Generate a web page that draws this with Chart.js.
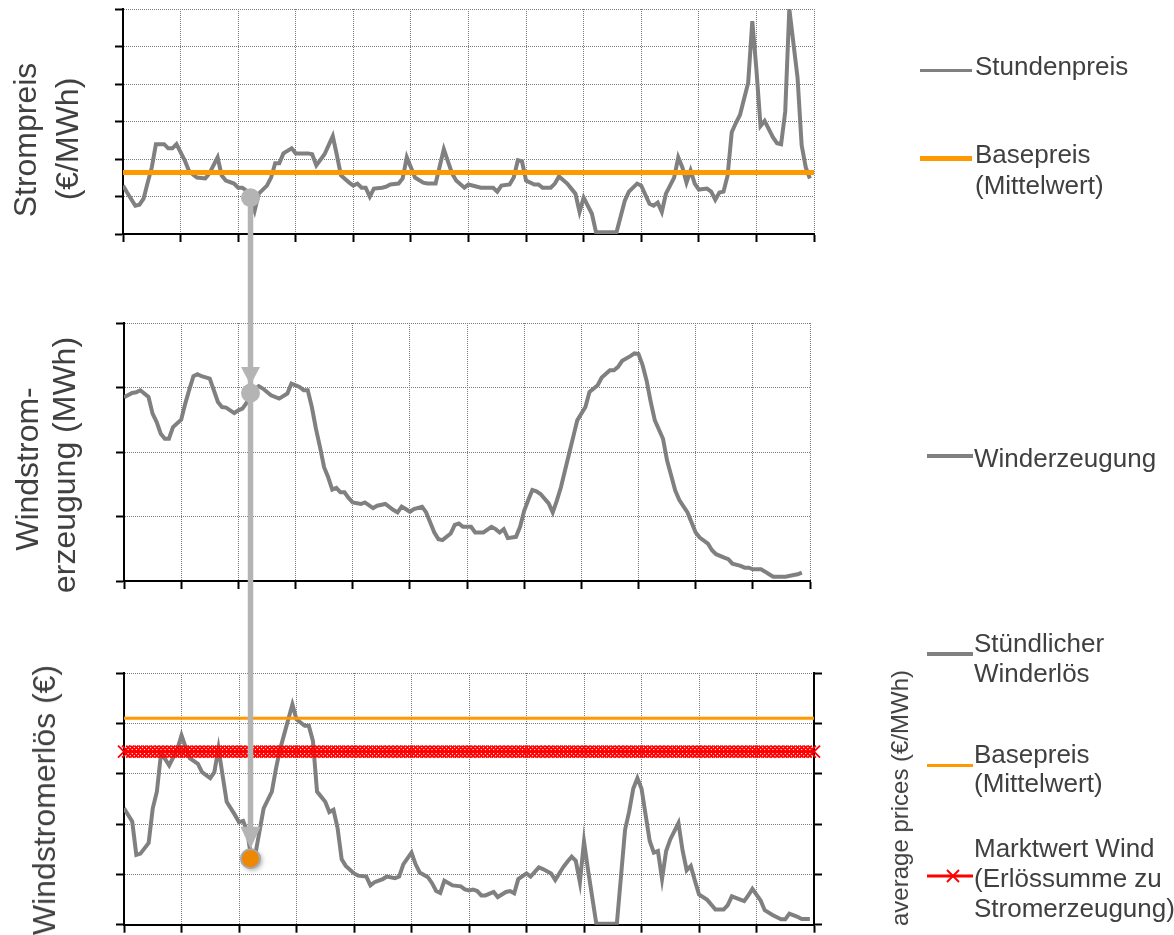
<!DOCTYPE html>
<html><head><meta charset="utf-8">
<script src="https://cdn.jsdelivr.net/npm/chart.js@4.4.1/dist/chart.umd.min.js"></script>
<style>
html,body{margin:0;padding:0;background:#fff;}
body{width:1174px;height:935px;position:relative;overflow:hidden;font-family:'Liberation Sans',Arial,Helvetica,sans-serif;color:#404040;}
canvas{position:absolute;}
.t{position:absolute;white-space:nowrap;font-size:26px;line-height:26px;}
.r{position:absolute;white-space:nowrap;font-size:32px;line-height:32px;transform:translate(-50%,-50%) rotate(-90deg);}
.r2{position:absolute;white-space:nowrap;font-size:24px;line-height:24px;transform:translate(-50%,-50%) rotate(-90deg);}
.sw{position:absolute;}
</style></head><body>
<canvas id="c1" width="830" height="246" style="left:0;top:0"></canvas>
<canvas id="c2" width="830" height="293" style="left:0;top:300px"></canvas>
<canvas id="c3" width="830" height="285" style="left:0;top:650px"></canvas>
<canvas id="ov" width="1174" height="935" style="left:0;top:0;pointer-events:none"></canvas>

<!-- axis titles -->
<div class="r" style="left:25px;top:139.5px">Strompreis</div>
<div class="r" style="left:67px;top:139px">(€/MWh)</div>
<div class="r" style="left:27px;top:469px">Windstrom-</div>
<div class="r" style="left:64px;top:465px">erzeugung (MWh)</div>
<div class="r" style="left:43.5px;top:800px">Windstromerlös (€)</div>
<div class="r2" style="left:900px;top:798px">average prices (€/MWh)</div>

<!-- legends -->
<div class="sw" style="left:920px;top:68.5px;width:52px;height:3.5px;background:#808080"></div>
<div class="t" style="left:975px;top:53px">Stundenpreis</div>
<div class="sw" style="left:920px;top:156px;width:52px;height:5px;background:#ff9900"></div>
<div class="t" style="left:975px;top:141.3px">Basepreis</div>
<div class="t" style="left:975px;top:172px">(Mittelwert)</div>

<div class="sw" style="left:927px;top:454px;width:46px;height:3.5px;background:#808080"></div>
<div class="t" style="left:974px;top:444.7px">Winderzeugung</div>

<div class="sw" style="left:927px;top:652.3px;width:46px;height:3.5px;background:#808080"></div>
<div class="t" style="left:974px;top:629.7px">Stündlicher</div>
<div class="t" style="left:974px;top:659.7px">Winderlös</div>
<div class="sw" style="left:927px;top:764.3px;width:46px;height:3px;background:#ff9900"></div>
<div class="t" style="left:974px;top:740.7px">Basepreis</div>
<div class="t" style="left:974px;top:770px">(Mittelwert)</div>
<svg class="sw" style="left:927px;top:868px" width="46" height="16"><line x1="0" y1="8" x2="46" y2="8" stroke="#ff0000" stroke-width="3"/><line x1="20" y1="2" x2="32" y2="14" stroke="#ff0000" stroke-width="2"/><line x1="20" y1="14" x2="32" y2="2" stroke="#ff0000" stroke-width="2"/></svg>
<div class="t" style="left:974px;top:834.7px">Marktwert Wind</div>
<div class="t" style="left:974px;top:864.7px">(Erlössumme zu</div>
<div class="t" style="left:974px;top:894.7px">Stromerzeugung)</div>

<script>
// ---------------- data ----------------
const X_MAX = 168;          // hours in the week
const X_STEP = 14;          // tick spacing (hours)
const HIGHLIGHT_HOUR = 31;  // hour marked by the arrow
const BASE_PRICE = 32.8;    // Basepreis (Mittelwert), €/MWh
const MARKTWERT_WIND = 27.5; // Marktwert Wind, €/MWh

// Stundenpreis (€/MWh)
const PRICE_HOURS = [0,1,3,4,5,6,7,8,10,11,12,13,15,16,17,18,20,21,23,24,25,27,28,29,30,31,32,33,35,36,37,38,39,41,42,45,46,47,49,51,52,53,55,56,57,58,59,60,61,63,64,65,67,68,69,71,73,74,76,78,80,81,83,84,87,90,91,92,94,95,96,97,98,100,101,102,104,105,106,108,109,110,111,112,114,115,120,122,123,125,126,128,129,130,131,132,134,135,136,137,138,139,140,142,143,144,145,146,147,148,149,150,152,153,154,155,156,158,159,160,161,162,164,165,166,167];
const PRICE_VALUES = [25.8,22.1,15.1,15.6,18.8,27.4,35.5,47.9,47.9,45.7,45.7,47.9,39.3,33.9,31.7,30.1,29.6,32.3,40.9,31.2,28.5,26.9,24.7,24.7,23.1,19.4,12.4,21.5,25.8,30.1,37.7,37.7,43.0,45.7,43.0,43.0,42.5,36.6,42.5,52.2,42.0,31.2,27.4,25.8,26.9,24.7,24.7,19.9,24.2,24.7,25.3,26.4,26.9,29.6,40.9,30.1,27.4,26.9,26.9,45.2,32.3,28.5,24.7,26.4,24.7,24.7,22.6,25.8,26.4,30.1,39.3,38.7,28.5,26.4,26.4,24.7,24.7,26.9,30.7,26.9,24.2,21.5,11.8,19.4,10.8,1.0,1.0,17.8,22.6,26.9,25.8,16.1,15.1,16.7,11.8,21.5,30.1,40.9,35.5,27.4,33.9,26.9,23.7,24.2,22.6,18.3,22.1,22.6,31.2,54.3,59.2,63.5,80.7,113.5,87.7,57.6,60.3,51.6,48.4,47.9,65.1,120,83.4,47.3,35.5,29.6];

// Winderzeugung (MWh)
const WIND_HOURS = [0,2,3,4,6,7,8,9,10,11,12,14,15,16,17,18,19,21,22,23,24,25,27,28,29,30,31,33,34,36,38,40,41,43,44,45,46,47,48,49,50,51,52,53,54,55,56,58,59,61,62,64,66,67,68,69,70,71,73,74,75,76,77,78,80,81,82,83,84,85,86,88,90,91,92,93,94,96,97,98,99,100,101,102,104,105,106,107,108,109,110,111,113,114,116,117,119,120,121,122,124,125,126,127,128,129,130,132,133,134,135,136,138,139,140,141,143,144,145,147,148,149,151,152,153,154,156,157,158,159,161,162,164,165,166];
const WIND_VALUES = [14240,14576,14630,14786,14265,12972,12319,11416,11027,11027,11930,12506,13751,14840,15875,16031,15875,15696,14786,13875,13486,13439,13019,13229,13362,13797,14576,15097,14918,14397,14140,14529,15307,15043,14786,14786,13486,11805,10373,8817,8039,7082,7214,6872,6872,6436,6093,5969,6093,5657,5837,5969,5502,5315,5759,5580,5370,5580,5759,5315,4537,3759,3245,3167,3681,4358,4459,4202,4202,4202,3759,3759,4202,4023,3759,4023,3323,3424,4202,5447,6280,7058,6949,6747,6015,5315,6226,7261,8560,9860,11152,12451,13486,14653,15175,15774,16342,16342,16599,17066,17432,17642,17587,16731,15509,13875,12451,11027,9338,8171,7004,6280,5315,4537,3759,3370,2903,2389,2078,1813,1689,1346,1167,1035,1035,910,910,724,521,335,335,335,467,521,646];

// Stündlicher Winderlös (Tsd. €)
const REVENUE_HOURS = [0,2,3,4,6,7,8,9,10,11,13,14,15,16,18,19,21,22,23,24,25,27,28,29,30,31,32,34,36,37,38,39,40,41,42,44,45,46,47,49,50,51,52,53,54,56,57,59,60,61,63,64,66,67,68,70,71,72,74,75,76,77,78,80,82,83,84,85,86,87,88,90,91,93,94,95,96,98,99,101,102,104,105,107,108,109,110,111,112,113,115,120,122,123,124,125,126,128,129,130,131,132,133,135,136,137,138,139,140,142,144,146,147,148,151,152,153,155,156,158,160,161,162,164,165,167];
const REVENUE_VALUES = [370,328,222,226,260,370,423,543,527,506,558,602,564,529,511,485,466,485,561,475,391,349,326,330,297,210,225,370,423,496,558,605,653,700,653,632,632,584,423,391,358,365,307,208,187,163,156,153,125,135,145,153,148,153,192,229,192,166,151,132,107,101,140,125,122,112,109,112,107,93,93,104,88,104,107,100,145,163,153,182,177,163,142,184,201,216,203,135,264,172,3,3,302,360,433,466,433,266,229,234,145,234,271,323,236,173,187,140,96,79,48,48,62,90,75,93,114,77,46,30,17,17,35,25,18,18];

// y-axis ranges (labels hidden in the original)
const PRICE_MAX = 120, PRICE_STEP = 20;
const WIND_MAX = 20000, WIND_STEP = 5000;
const REV_MAX = 800, REV_STEP = 160;
const AVG_MAX = 40, AVG_STEP = 8;

// ---------------- helpers ----------------
const pts = (xs, ys) => xs.map((h, i) => ({x: h, y: ys[i]}));
const MARKER_HOURS = [];
for (let h = 0; h <= X_MAX; h++) MARKER_HOURS.push(h);

const GRAY = '#808080', ORANGE = '#ff9900', RED = '#ff0000';

function axis(extra, tickLen) {
  return Object.assign({
    grid: {color: '#7a7a7a', lineWidth: 1, drawTicks: true, tickLength: tickLen || 8,
           tickColor: '#000', tickWidth: 2, tickBorderDash: []},
    border: {display: true, color: '#000', width: 2, dash: [1, 1]},
    ticks: {display: false}
  }, extra);
}

function xAxis(h, tickLen) {
  return axis({type: 'linear', min: 0, max: X_MAX, ticks: {display: false, stepSize: X_STEP},
    afterFit: s => { s.height = h; }}, tickLen);
}

function baseOpts(padding, scales) {
  return {
    responsive: false, animation: false, events: [],
    layout: {padding: padding},
    plugins: {legend: {display: false}, tooltip: {enabled: false}},
    elements: {point: {radius: 0}, line: {tension: 0}},
    scales: scales
  };
}

// ---------------- top: Strompreis ----------------
const chartTop = new Chart(document.getElementById('c1'), {
  type: 'line',
  data: {datasets: [
    {label: 'Basepreis (Mittelwert)', data: [{x: 0, y: BASE_PRICE}, {x: X_MAX, y: BASE_PRICE}],
     borderColor: ORANGE, borderWidth: 5, pointRadius: 0},
    {label: 'Stundenpreis', data: pts(PRICE_HOURS, PRICE_VALUES),
     borderColor: GRAY, borderWidth: 4, pointRadius: 0}
  ]},
  options: baseOpts({left: 0, right: 16, top: 9, bottom: 0}, {
    x: xAxis(12),
    y: axis({min: 0, max: PRICE_MAX, ticks: {display: false, stepSize: PRICE_STEP},
      afterFit: s => { s.width = 123; }})
  })
});

// ---------------- middle: Windstromerzeugung ----------------
const chartMid = new Chart(document.getElementById('c2'), {
  type: 'line',
  data: {datasets: [
    {label: 'Winderzeugung', data: pts(WIND_HOURS, WIND_VALUES),
     borderColor: GRAY, borderWidth: 4, pointRadius: 0}
  ]},
  options: baseOpts({left: 0, right: 20, top: 23, bottom: 0}, {
    x: xAxis(12),
    y: axis({min: 0, max: WIND_MAX, ticks: {display: false, stepSize: WIND_STEP},
      afterFit: s => { s.width = 124; }})
  })
});

// ---------------- bottom: Windstromerlös ----------------
const chartBot = new Chart(document.getElementById('c3'), {
  type: 'line',
  data: {datasets: [
    {label: 'Basepreis (Mittelwert)', yAxisID: 'y2',
     data: [{x: 0, y: BASE_PRICE}, {x: X_MAX, y: BASE_PRICE}],
     borderColor: ORANGE, borderWidth: 3, pointRadius: 0},
    {label: 'Marktwert Wind (Erlössumme zu Stromerzeugung)', yAxisID: 'y2',
     data: MARKER_HOURS.map(h => ({x: h, y: MARKTWERT_WIND})),
     borderColor: RED, borderWidth: 2, pointStyle: 'crossRot', pointRadius: 8.5,
     pointBorderColor: RED, pointBorderWidth: 1.8, clip: 12},
    {label: 'Stündlicher Winderlös', yAxisID: 'y', data: pts(REVENUE_HOURS, REVENUE_VALUES),
     borderColor: GRAY, borderWidth: 4, pointRadius: 0}
  ]},
  options: baseOpts({left: 0, right: 0, top: 23, bottom: 0}, {
    x: xAxis(7, 8),
    y: axis({position: 'left', min: 0, max: REV_MAX, ticks: {display: false, stepSize: REV_STEP},
      afterFit: s => { s.width = 124; }}),
    y2: {position: 'right', min: 0, max: AVG_MAX, ticks: {display: false, stepSize: AVG_STEP},
      grid: {drawOnChartArea: false, drawTicks: true, tickLength: 8, tickColor: '#000', tickWidth: 2, color: '#000'},
      border: {display: true, color: '#000', width: 2},
      afterFit: s => { s.width = 16; }}
  })
});

// ---------------- arrow overlay (positions from the charts' scales) ----------------
(function drawArrow() {
  const ov = document.getElementById('ov');
  const ctx = ov.getContext('2d');
  const off = id => document.getElementById(id).offsetTop;
  const pi = PRICE_HOURS.indexOf(HIGHLIGHT_HOUR);
  const wi = WIND_HOURS.indexOf(HIGHLIGHT_HOUR);
  const ri = REVENUE_HOURS.indexOf(HIGHLIGHT_HOUR);
  const x = chartTop.scales.x.getPixelForValue(HIGHLIGHT_HOUR);
  const yTop = chartTop.scales.y.getPixelForValue(PRICE_VALUES[pi]) + off('c1');
  const yMid = chartMid.scales.y.getPixelForValue(WIND_VALUES[wi]) + off('c2');
  const yBot = chartBot.scales.y.getPixelForValue(REVENUE_VALUES[ri]) + off('c3');
  const AC = '#b4b4b4';

  ctx.strokeStyle = AC; ctx.lineWidth = 5.5;
  ctx.beginPath(); ctx.moveTo(x, yTop); ctx.lineTo(x, yBot - 20); ctx.stroke();

  function head(tipY, len, hw) {
    ctx.fillStyle = AC;
    ctx.beginPath();
    ctx.moveTo(x, tipY); ctx.lineTo(x - hw, tipY - len); ctx.lineTo(x + hw, tipY - len);
    ctx.closePath(); ctx.fill();
  }
  head(yMid - 8, 18, 9.5);
  head(yBot - 10, 22, 10);

  ctx.fillStyle = AC;
  ctx.beginPath(); ctx.arc(x, yTop, 9.5, 0, Math.PI * 2); ctx.fill();
  ctx.beginPath(); ctx.arc(x, yMid, 9.5, 0, Math.PI * 2); ctx.fill();

  ctx.save();
  ctx.shadowColor = 'rgba(0,0,0,0.35)'; ctx.shadowBlur = 5; ctx.shadowOffsetX = 2; ctx.shadowOffsetY = 2;
  ctx.fillStyle = '#ee8800';
  ctx.beginPath(); ctx.arc(x, yBot, 9.5, 0, Math.PI * 2); ctx.fill();
  ctx.restore();
  ctx.strokeStyle = '#a8a8a8'; ctx.lineWidth = 2;
  ctx.beginPath(); ctx.arc(x, yBot, 9.5, 0, Math.PI * 2); ctx.stroke();
})();
</script>
</body></html>
